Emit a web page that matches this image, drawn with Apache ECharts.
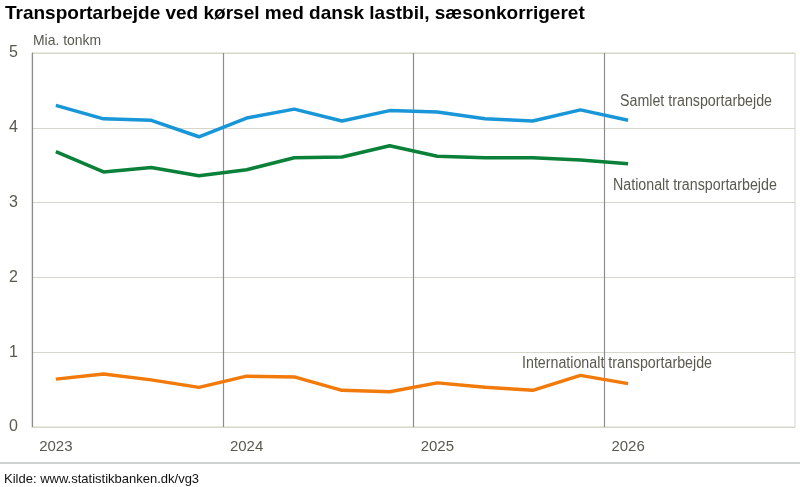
<!DOCTYPE html>
<html>
<head>
<meta charset="utf-8">
<script src="https://cdn.jsdelivr.net/npm/echarts@6/dist/echarts.min.js"></script>
<style>
  html, body { margin: 0; padding: 0; background: #fff; }
  #chart { width: 800px; height: 487px; }
</style>
</head>
<body>
<div id="chart"></div>
<script>
// kvartaler 2023K1 - 2026K4 (data frem til 2026K1)
let quarters = [];
for (let y = 2023; y <= 2026; y++) {
  for (let q = 1; q <= 4; q++) quarters.push(y + 'K' + q);
}
let samlet = [4.30, 4.12, 4.10, 3.88, 4.13, 4.25, 4.09, 4.23, 4.21, 4.12, 4.09, 4.24, 4.10];
let nationalt = [3.68, 3.41, 3.47, 3.36, 3.44, 3.60, 3.61, 3.76, 3.62, 3.60, 3.60, 3.57, 3.52];
let international = [0.64, 0.71, 0.63, 0.53, 0.68, 0.67, 0.49, 0.47, 0.59, 0.53, 0.49, 0.69, 0.58];
let yTicks = [0, 1, 2, 3, 4, 5];

let sans = '"Liberation Sans", Arial, sans-serif';
let txtColor = '#595950';

// tekst med smal skrift (Arial Narrow findes ikke, så vi presser Liberation Sans)
function narrowText(txt, x, y, size, sx) {
  return { type: 'text', x: x, y: y, scaleX: sx || 0.89,
    style: { text: txt, font: size + 'px ' + sans, fill: txtColor, textVerticalAlign: 'middle' } };
}

let chart = echarts.init(document.getElementById('chart'));
let option = {
  animation: false,
  backgroundColor: '#fff',
  grid: { left: 32, right: 5, top: 53, bottom: 60, show: true, borderColor: '#d6d6cc', borderWidth: 1 },
  xAxis: {
    type: 'category',
    data: quarters,
    boundaryGap: true,
    axisLine: { show: true, lineStyle: { color: '#d6d6cc' } },
    axisTick: { show: false },
    axisLabel: {
      interval: function (i) { return i % 4 === 0; },
      formatter: function (v) { return v.slice(0, 4); },
      color: txtColor, fontFamily: sans, fontSize: 15, margin: 12
    },
    splitLine: {
      show: true,
      showMinLine: false,
      showMaxLine: false,
      interval: function (i) { return i % 4 === 0; },
      lineStyle: { color: '#8c8c8c', width: 1.2 }
    }
  },
  yAxis: {
    type: 'value',
    min: yTicks[0], max: yTicks[yTicks.length - 1], interval: 1,
    axisLine: { show: true, lineStyle: { color: '#8c8c8c', width: 1.2 } },
    axisTick: { show: false },
    axisLabel: { color: txtColor, fontFamily: sans, fontSize: 16, margin: 14 },
    splitLine: { lineStyle: { color: '#d6d6cc' } }
  },
  series: [
    { name: 'Samlet transportarbejde', type: 'line', data: samlet, symbol: 'none',
      lineStyle: { color: '#1896d8', width: 3.5 } },
    { name: 'Nationalt transportarbejde', type: 'line', data: nationalt, symbol: 'none',
      lineStyle: { color: '#0b8038', width: 3.5 } },
    { name: 'Internationalt transportarbejde', type: 'line', data: international, symbol: 'none',
      lineStyle: { color: '#f27a0a', width: 3.5 } }
  ],
  graphic: [
    { type: 'text', left: 5, top: 4,
      style: { text: 'Transportarbejde ved kørsel med dansk lastbil, sæsonkorrigeret',
        font: 'bold 19px ' + sans, fill: '#000' } },
    narrowText('Mia. tonkm', 33, 41, 15, 0.93),
    narrowText('Samlet transportarbejde', 620, 102, 16),
    narrowText('Nationalt transportarbejde', 613, 186, 16),
    narrowText('Internationalt transportarbejde', 522, 364, 16),
    { type: 'line', shape: { x1: 0, y1: 463, x2: 800, y2: 463 },
      style: { stroke: '#a0a4a4', lineWidth: 1 } },
    { type: 'text', left: 4, top: 473,
      style: { text: 'Kilde: www.statistikbanken.dk/vg3', font: '13px ' + sans, fill: '#111' } }
  ]
};
chart.setOption(option);
</script>
</body>
</html>
